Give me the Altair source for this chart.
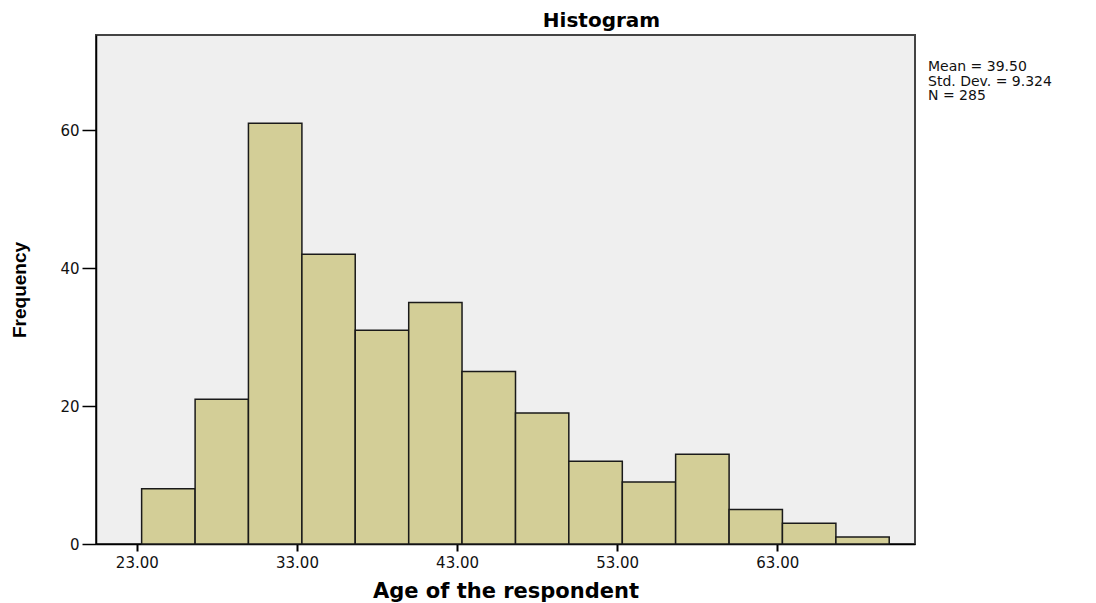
import altair as alt
import pandas as pd

# Histogram bins
bin_start = [23.30, 26.64, 29.97, 33.31, 36.64, 39.98, 43.31, 46.65, 49.98, 53.32, 56.65, 59.99, 63.32, 66.66]
bin_end = [26.64, 29.97, 33.31, 36.64, 39.98, 43.31, 46.65, 49.98, 53.32, 56.65, 59.99, 63.32, 66.66, 69.99]
counts = [8, 21, 61, 42, 31, 35, 25, 19, 12, 9, 13, 5, 3, 1]

x_ticks = [23, 33, 43, 53, 63]
y_ticks = [0, 20, 40, 60]

stats_lines = ["Mean = 39.50", "Std. Dev. = 9.324", "N = 285"]

df = pd.DataFrame({"start": bin_start, "end": bin_end, "count": counts})
stats_df = pd.DataFrame({"label": ["\n".join(stats_lines)]})

W, H = 819, 509

x_scale = alt.Scale(domain=[20.45, 71.6], nice=False, zero=False)
y_scale = alt.Scale(domain=[0, 73.8], nice=False)

bars = alt.Chart(df).mark_bar(
    fill="#D3CE97", stroke="#1a1a1a", strokeWidth=1.5
).encode(
    x=alt.X("start:Q", scale=x_scale,
            axis=alt.Axis(values=x_ticks, format=".2f", title="Age of the respondent",
                          grid=False, domainColor="#000", domainWidth=1.5,
                          tickColor="#000", tickWidth=2, tickSize=7,
                          labelFont="DejaVu Sans", labelFontSize=15, labelColor="#111",
                          labelPadding=4,
                          titleFont="DejaVu Sans", titleFontSize=21, titleFontWeight="bold",
                          titleColor="#000", titlePadding=10)),
    x2="end:Q",
    y=alt.Y("count:Q", scale=y_scale,
            axis=alt.Axis(values=y_ticks, format="d", title="Frequency",
                          grid=False, domainColor="#000", domainWidth=1.5,
                          tickColor="#000", tickWidth=1.5, tickSize=14,
                          labelFont="DejaVu Sans", labelFontSize=15, labelColor="#111",
                          labelPadding=3,
                          titleFont="Liberation Sans", titleFontSize=19,
                          titleFontWeight="bold",
                          titleColor="#000", titlePadding=30)),
    y2=alt.datum(0),
)

stats = alt.Chart(stats_df).mark_text(
    align="left", baseline="top", font="DejaVu Sans", fontSize=14,
    lineBreak="\n", lineHeight=14.5, color="#111"
).encode(
    text="label:N",
    x=alt.value(W + 13),
    y=alt.value(25),
)

chart = alt.layer(bars, stats).properties(
    width=W, height=H,
    title=alt.TitleParams("Histogram", font="DejaVu Sans", fontSize=20,
                          fontWeight="bold", anchor="middle", dx=96, offset=4,
                          color="#000"),
    autosize=alt.AutoSizeParams(type="none"),
    padding={"left": 88, "top": 27, "right": 170, "bottom": 58},
    view=alt.ViewBackground(fill="#EFEFEF", stroke="#444", strokeWidth=2),
).configure(background="white")

chart.save("out.html", embed_options={"renderer": "svg", "actions": False})
